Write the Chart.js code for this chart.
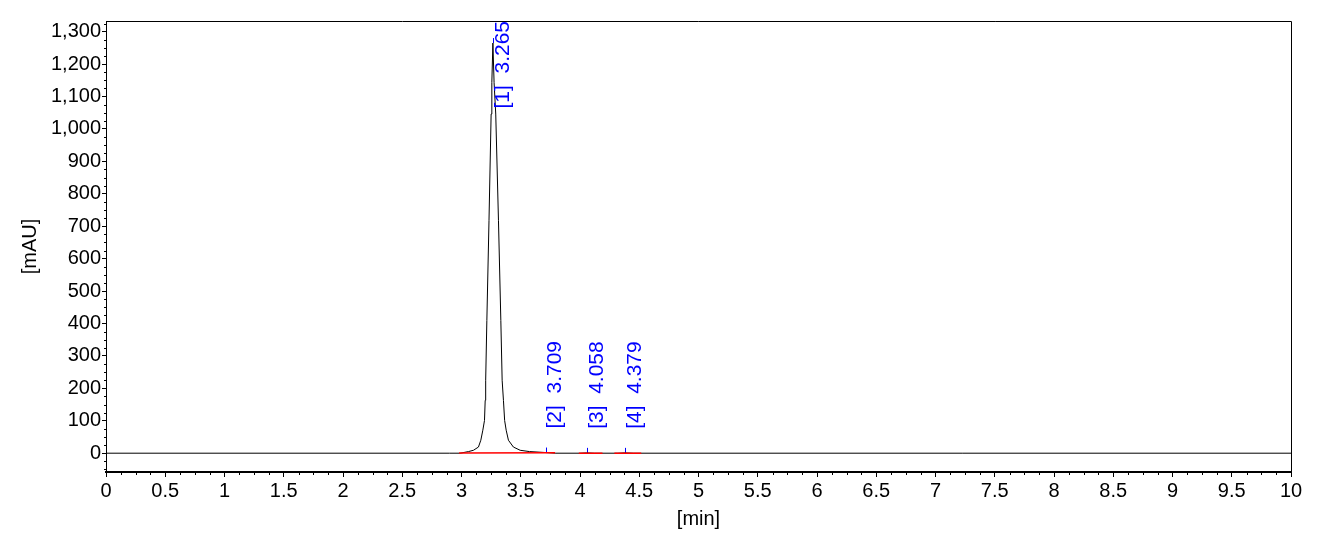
<!DOCTYPE html>
<html>
<head>
<meta charset="utf-8">
<script src="https://cdn.jsdelivr.net/npm/chart.js@4.4.1/dist/chart.umd.min.js"></script>
<style>
  html, body { margin: 0; padding: 0; background: #fff; }
</style>
</head>
<body>
<canvas id="chromChart" width="1333" height="554"></canvas>
<script>
// detector trace: time [min] and signal [mAU]
const traceTimes = [0, 2.9, 2.99, 3.059, 3.101, 3.143, 3.163, 3.18, 3.194, 3.2, 3.204, 3.214, 3.232, 3.25, 3.256, 3.265,
                    3.275, 3.289, 3.312, 3.332, 3.343, 3.354, 3.364, 3.377, 3.396, 3.438, 3.495, 3.573, 3.709, 3.79,
                    4.0, 4.058, 4.12, 4.32, 4.379, 4.45, 10];
const traceValues = [0, 0, 0, 5, 9, 19, 40, 71, 101, 163, 225, 409, 717, 1046, 1143, 1265,
                     1143, 1046, 717, 409, 225, 163, 101, 71, 40, 19, 9, 5, 2, 0,
                     0, 1, 0, 0, 1, 0, 0];

// integration baselines (red)
const baseStarts = [2.98, 3.99, 4.29];
const baseEnds = [3.79, 4.19, 4.517];
const baseStartValues = [0.5, 0, 0];
const baseEndValues = [1, 0, 0];

// peak annotations
const peakNames = ['[1]', '[2]', '[3]', '[4]'];
const peakTimes = [3.265, 3.709, 4.058, 4.379];
const peakHeights = [1265, 2, 1, 1];

// axis ticks
const xTickValues = [0, 0.5, 1, 1.5, 2, 2.5, 3, 3.5, 4, 4.5, 5, 5.5, 6, 6.5, 7, 7.5, 8, 8.5, 9, 9.5, 10];
const yTickValues = [0, 100, 200, 300, 400, 500, 600, 700, 800, 900, 1000, 1100, 1200, 1300];
const xMinorStep = 0.125;
const yMinorStep = 25;

const FONT = '"Liberation Sans", Arial, sans-serif';

const tracePoints = traceTimes.map((t, i) => ({ x: t, y: traceValues[i] }));

const basePoints = [];
baseStarts.forEach((s, i) => {
    basePoints.push({ x: s, y: baseStartValues[i] });
    basePoints.push({ x: baseEnds[i], y: baseEndValues[i] });
    basePoints.push({ x: baseEnds[i] + 0.01, y: null });
});

const chromDecor = {
    id: 'chromDecor',
    beforeDatasetsDraw(chart) {
        const { ctx, scales: { x, y } } = chart;
        ctx.save();
        ctx.strokeStyle = '#0000ff';
        ctx.lineWidth = 1;
        peakTimes.forEach((t, i) => {
            const px = Math.round(x.getPixelForValue(t)) + 0.5;
            const py = y.getPixelForValue(peakHeights[i]);
            ctx.beginPath();
            ctx.moveTo(px, py);
            ctx.lineTo(px, py - 5);
            ctx.stroke();
        });
        ctx.restore();
    },
    afterDraw(chart) {
        const { ctx, chartArea: a, scales: { x, y } } = chart;
        ctx.save();

        // top and right frame
        ctx.strokeStyle = '#000';
        ctx.lineWidth = 1;
        ctx.beginPath();
        ctx.moveTo(a.left, a.top + 0.5);
        ctx.lineTo(Math.round(a.right) + 0.5, a.top + 0.5);
        ctx.lineTo(Math.round(a.right) + 0.5, a.bottom);
        ctx.stroke();

        // minor ticks
        ctx.beginPath();
        for (let v = y.min - (y.min % yMinorStep); v <= y.max; v += yMinorStep) {
            if (v % 100 === 0) continue;
            const py = Math.round(y.getPixelForValue(v)) + 0.5;
            ctx.moveTo(a.left - 2, py);
            ctx.lineTo(a.left, py);
        }
        for (let t = xMinorStep; t < x.max; t += xMinorStep) {
            if (Math.abs(t / 0.5 - Math.round(t / 0.5)) < 1e-6) continue;
            const px = Math.round(x.getPixelForValue(t)) + 0.5;
            ctx.moveTo(px, a.bottom);
            ctx.lineTo(px, a.bottom + 3);
        }
        ctx.stroke();

        // peak labels, rotated, kept inside the plot
        ctx.font = '21px ' + FONT;
        ctx.fillStyle = '#0000ff';
        ctx.textAlign = 'left';
        ctx.textBaseline = 'middle';
        peakTimes.forEach((t, i) => {
            const text = peakNames[i] + '  ' + t.toFixed(3);
            const w = ctx.measureText(text).width;
            const px = x.getPixelForValue(t) + 10;
            let start = y.getPixelForValue(peakHeights[i]) - 24;
            start = Math.max(start, a.top + w);
            ctx.save();
            ctx.translate(px, start);
            ctx.rotate(-Math.PI / 2);
            ctx.fillText(text, 0, 0);
            ctx.restore();
        });
        ctx.restore();
    }
};

new Chart(document.getElementById('chromChart'), {
    type: 'line',
    data: {
        datasets: [{
            label: 'baseline',
            data: basePoints,
            borderColor: '#ff0000',
            borderWidth: 1.5,
            pointRadius: 0,
            spanGaps: false
        }, {
            label: 'signal',
            data: tracePoints,
            borderColor: '#000000',
            borderWidth: 1,
            pointRadius: 0,
            tension: 0
        }]
    },
    options: {
        responsive: false,
        devicePixelRatio: 1,
        animation: false,
        layout: { padding: { top: 21, right: 42, left: 0, bottom: 0 } },
        plugins: {
            legend: { display: false },
            tooltip: { enabled: false }
        },
        scales: {
            x: {
                type: 'linear',
                min: 0,
                max: 10,
                afterBuildTicks: axis => { axis.ticks = xTickValues.map(v => ({ value: v })); },
                afterFit: axis => { axis.height = 82; },
                ticks: {
                    color: '#000',
                    padding: 2,
                    maxRotation: 0,
                    autoSkip: false,
                    font: { family: FONT, size: 20, lineHeight: 1.2 },
                    callback: v => String(v)
                },
                grid: { drawOnChartArea: false, drawTicks: true, tickLength: 5, color: '#000' },
                border: { display: true, color: '#000', width: 2 },
                title: {
                    display: true,
                    text: '[min]',
                    color: '#000',
                    font: { family: FONT, size: 20, lineHeight: 1.2 },
                    padding: { top: 0, bottom: 23 }
                }
            },
            y: {
                type: 'linear',
                min: -58,
                max: 1333,
                afterBuildTicks: axis => { axis.ticks = yTickValues.map(v => ({ value: v })); },
                afterFit: axis => { axis.width = 106; },
                ticks: {
                    color: '#000',
                    padding: 1,
                    autoSkip: false,
                    font: { family: FONT, size: 20, lineHeight: 1.2 },
                    callback: v => v.toLocaleString('en-US')
                },
                grid: { drawOnChartArea: false, drawTicks: true, tickLength: 4, color: '#000' },
                border: { display: true, color: '#000', width: 1 },
                title: {
                    display: true,
                    text: '[mAU]',
                    color: '#000',
                    font: { family: FONT, size: 20, lineHeight: 1.2 },
                    padding: { top: 18, bottom: 0 }
                }
            }
        }
    },
    plugins: [chromDecor]
});
</script>
</body>
</html>
